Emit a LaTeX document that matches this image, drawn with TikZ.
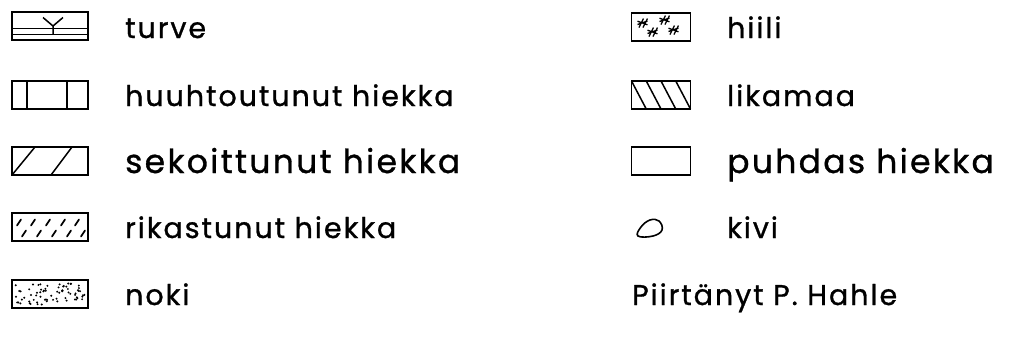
\documentclass[tikz,border=0pt]{standalone}
\usepackage{fontspec}
\setmainfont{Poppins}
\newfontfamily\lab[LetterSpace=7, FakeBold=1.0]{Poppins}
\tikzset{
  legbox/.style={draw, line width=1.6pt, minimum width=76pt, minimum height=28pt, inner sep=0pt, outer sep=0pt},
  rbox/.style={legbox, minimum width=59pt},
  lbl/.style={anchor=base west, inner sep=0pt, font=\lab\fontsize{28.5}{32}\selectfont},
  lblbig/.style={anchor=base west, inner sep=0pt, font=\lab\fontsize{33}{36}\selectfont},
  hatch/.style={line width=1.5pt},
  speck/.style={line width=1.7pt, line cap=round},
  star/.style={line width=1.3pt},
}
\begin{document}
\begin{tikzpicture}[x=1pt,y=1pt]
\useasboundingbox (0,0) rectangle (1015,-349);
% ---------- left column ----------
% turve
\node[legbox] (b1) at (50,-26) {};
\begin{scope}[shift={(b1.south west)}]
  \draw[hatch] (0,5.5) -- (76,5.5);
  \draw[hatch] (0,11.5) -- (76,11.5);
  \draw[hatch] (41,5.5) -- (41,14) (31,22.5) -- (41,14) -- (51,22.5);
\end{scope}
\node[lbl] (t1) at (125,-38) {turve};
% huuhtoutunut
\node[legbox] (b2) at (50,-95) {};
\begin{scope}[shift={(b2.south west)}]
  \draw[hatch] (15,0) -- (15,28);
  \draw[hatch] (55,0) -- (55,28);
\end{scope}
\node[lbl] (t2) at (125,-106) {huuhtoutunut hiekka};
% sekoittunut
\node[legbox] (b3) at (50,-161) {};
\begin{scope}[shift={(b3.south west)}]
  \draw[hatch] (0,0) -- (23,28);
  \draw[hatch] (39,0) -- (60,28);
\end{scope}
\node[lblbig] (t3) at (125,-173) {sekoittunut hiekka};
% rikastunut
\node[legbox] (b4) at (50,-227) {};
\begin{scope}[shift={(b4.south west)}]
  \foreach \x in {7,21,36,51,65} \draw[speck] (\x-2,15.5) -- (\x+2,21.5);
  \foreach \x in {12,27,42,57,71} \draw[speck] (\x-2,4.5) -- (\x+2,10.5);
\end{scope}
\node[lbl] (t4) at (125,-238) {rikastunut hiekka};
% noki
\node[legbox] (b5) at (50,-294) {};
\begin{scope}[shift={(b5.south west)}]
  \pgfmathsetseed{4711}
  \foreach \i in {1,...,72} \fill ({3.5+69*rnd},{3.5+21*rnd}) circle (1.1);
\end{scope}
\node[lbl] (t5) at (125,-305) {noki};
% ---------- right column ----------
% hiili
\node[rbox] (b6) at (661,-27) {};
\begin{scope}[shift={(b6.south west)}]
  \foreach \p in {(11,18),(33,21),(21,9),(42,11)}
    \draw[star, shift={\p}] (-3.5,-4.5) -- (1,4.5) (0.5,-4.5) -- (5,4.5) (-5,-1.5) -- (5,2) (-5,1.8) -- (5,-1.8);
\end{scope}
\node[lbl] (t6) at (727,-38) {hiili};
% likamaa
\node[rbox] (b7) at (661,-95) {};
\begin{scope}[shift={(b7.south west)}]
  \draw[hatch] (0,28) -- (14.75,0);
  \draw[hatch] (14.75,28) -- (29.5,0);
  \draw[hatch] (29.5,28) -- (44.25,0);
  \draw[hatch] (44.25,28) -- (59,0);
\end{scope}
\node[lbl] (t7) at (727,-106) {likamaa};
% puhdas hiekka
\node[rbox] (b8) at (661,-161) {};
\node[lblbig] (t8) at (727,-173) {puhdas hiekka};
% kivi
\coordinate (k) at (638,-236);
\draw[line width=1.6pt, shift={(k)}] plot[smooth cycle, tension=0.7] coordinates {(0,0) (3,9) (12,16) (21,15) (24,6) (15,0)};
\node[lbl] (t9) at (727,-238) {kivi};
% signature
\node[lbl] (t10) at (632,-305) {Piirtänyt P. Hahle};
\end{tikzpicture}
\end{document}
